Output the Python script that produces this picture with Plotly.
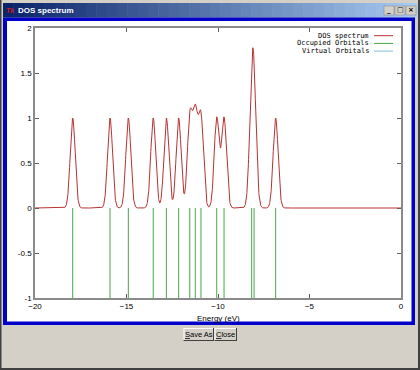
import numpy as np
import plotly.graph_objects as go

# ---- data ----
occupied_energies = [-17.94, -15.90, -14.90, -13.54, -12.82, -12.15, -11.54, -11.24,
                     -10.93, -10.07, -9.67, -8.16, -8.03, -6.85]
virtual_energies = []
broadening_sigma = 0.135
energy_range = [-20, 0]
y_range = [-1, 2]
x_tick_vals = [-20, -15, -10, -5, 0]
y_tick_vals = [-1, -0.5, 0, 0.5, 1, 1.5, 2]
y_tick_text = ["-1", "-0.5", "0", "0.5", "1", "1.5", "2"]
window_title = "DOS spectrum"
x_label = "Energy (eV)"
legend_names = ["DOS spectrum", "Occupied Orbitals", "Virtual Orbitals"]

# DOS: gaussian broadening of the orbital energies
grid = np.linspace(energy_range[0], energy_range[1], 2001)
dos = np.zeros_like(grid)
for e in occupied_energies + virtual_energies:
    dos += np.exp(-(grid - e) ** 2 / (2 * broadening_sigma ** 2))

def sticks(energies):
    xs, ys = [], []
    for e in energies:
        xs += [e, e, None]
        ys += [0, -1, None]
    return xs, ys

RED = "#b83232"
GREEN = "#4aa84a"
BLUE = "#84bde0"

fig = go.Figure()
fig.add_trace(go.Scatter(x=grid, y=dos, mode="lines", line=dict(color=RED, width=1),
                         showlegend=False, hoverinfo="skip"))
ox, oy = sticks(occupied_energies)
fig.add_trace(go.Scatter(x=ox, y=oy, mode="lines", line=dict(color=GREEN, width=1),
                         showlegend=False, hoverinfo="skip"))
vx, vy = sticks(virtual_energies)
fig.add_trace(go.Scatter(x=vx, y=vy, mode="lines", line=dict(color=BLUE, width=1),
                         showlegend=False, hoverinfo="skip"))

# pixel -> paper helpers (plot area: x 35..401, y 28..298)
L, R, T, B = 35, 401, 28, 298
def PX(px):
    return (px - L) / (R - L)
def PY(py):
    return (B - py) / (B - T)

shapes = []
def rect(x0, y0, x1, y1, fill, line=None, lw=0, layer="below"):
    shapes.append(dict(type="rect", xref="paper", yref="paper",
                       x0=PX(x0), x1=PX(x1), y0=PY(y1), y1=PY(y0),
                       fillcolor=fill, line=dict(width=lw, color=line or fill),
                       layer=layer))
def hline(x0, x1, y, color, w=1, layer="above"):
    shapes.append(dict(type="line", xref="paper", yref="paper",
                       x0=PX(x0), x1=PX(x1), y0=PY(y), y1=PY(y),
                       line=dict(color=color, width=w), layer=layer))
def vline(x, y0, y1, color, w=1, layer="above"):
    shapes.append(dict(type="line", xref="paper", yref="paper",
                       x0=PX(x), x1=PX(x), y0=PY(y0), y1=PY(y1),
                       line=dict(color=color, width=w), layer=layer))

# window body
rect(0, 0, 420, 370, "#d4d0c8")
rect(0, 0, 1.5, 370, "#404040")
rect(418, 0, 420, 370, "#404040")
rect(0, 368, 420, 370, "#404040")
# title bar gradient
c0 = np.array([10, 36, 106])
c1 = np.array([166, 202, 240])
n = 40
x_start, x_end = 3, 417
for i in range(n):
    t = i / (n - 1)
    c = (c0 + (c1 - c0) * t).astype(int)
    xa = x_start + (x_end - x_start) * i / n
    xb = x_start + (x_end - x_start) * (i + 1) / n + 0.5
    rect(xa, 3, xb, 17.5, "rgb(%d,%d,%d)" % tuple(c))
# title buttons
for bx in [384, 395, 406]:
    rect(bx, 6, bx + 10, 15, "#d4d0c8", "#808080", 0.5)
# blue frame + white interior
rect(3, 17.5, 415, 325, "#0000c8")
rect(7, 21, 411.5, 321.5, "#ffffff")
# buttons
for bx0, bx1 in [(183.5, 214), (214.5, 237)]:
    rect(bx0, 328, bx1, 341, "#d4d0c8")
    hline(bx0, bx1, 328.5, "#ffffff", 1)
    vline(bx0 + 0.5, 328, 341, "#ffffff", 1)
    hline(bx0, bx1, 340.5, "#404040", 1)
    vline(bx1 - 0.5, 328, 341, "#404040", 1)

# legend line samples
legend_rows = [35.7, 43.4, 51.1]
for yrow, col in zip(legend_rows, [RED, GREEN, BLUE]):
    hline(374, 393, yrow, col, 1)

annotations = []
for yrow, name in zip(legend_rows, legend_names):
    annotations.append(dict(x=PX(371), y=PY(yrow), xref="paper", yref="paper",
                            text=name, showarrow=False, xanchor="right", yanchor="middle",
                            font=dict(family="DejaVu Sans Mono", size=7, color="#000000")))
annotations.append(dict(x=PX(16), y=PY(10), xref="paper", yref="paper",
                        text="<b>" + window_title + "</b>", showarrow=False,
                        xanchor="left", yanchor="middle",
                        font=dict(family="Liberation Sans", size=8, color="#ffffff")))
annotations.append(dict(x=PX(4), y=PY(10), xref="paper", yref="paper",
                        text="<b><i>Tk</i></b>", showarrow=False,
                        xanchor="left", yanchor="middle",
                        font=dict(family="Liberation Sans", size=7, color="#d02020")))
for bx, g in zip([384, 395, 406], ["_", "□", "×"]):
    annotations.append(dict(x=PX(bx + 5), y=PY(10.5), xref="paper", yref="paper",
                            text="<b>" + g + "</b>", showarrow=False,
                            xanchor="center", yanchor="middle",
                            font=dict(family="DejaVu Sans", size=7, color="#000000")))
annotations.append(dict(x=PX(218), y=PY(318.5), xref="paper", yref="paper",
                        text=x_label, showarrow=False, xanchor="center", yanchor="middle",
                        font=dict(family="Liberation Sans", size=8, color="#000000")))
for cx, txt in [(198.7, "<u>S</u>ave As"), (225.7, "<u>C</u>lose")]:
    annotations.append(dict(x=PX(cx), y=PY(334.5), xref="paper", yref="paper",
                            text=txt, showarrow=False, xanchor="center", yanchor="middle",
                            font=dict(family="Liberation Sans", size=7.5, color="#000000")))

axis_common = dict(showgrid=False, zeroline=False, showline=True, linecolor="#8a8a8a",
                   linewidth=1.5, mirror="allticks", ticks="inside", ticklen=4,
                   tickcolor="#606060", tickwidth=1,
                   tickfont=dict(family="Liberation Sans", size=8, color="#000000"))

fig.update_layout(
    width=420, height=370,
    margin=dict(l=L, r=420 - R, t=T, b=370 - B, pad=0),
    paper_bgcolor="#d4d0c8", plot_bgcolor="rgba(0,0,0,0)",
    xaxis=dict(range=energy_range, tickvals=x_tick_vals, **axis_common),
    yaxis=dict(range=y_range, tickvals=y_tick_vals, ticktext=y_tick_text, **axis_common),
    shapes=shapes, annotations=annotations, showlegend=False,
)
fig.write_html("out.html")
